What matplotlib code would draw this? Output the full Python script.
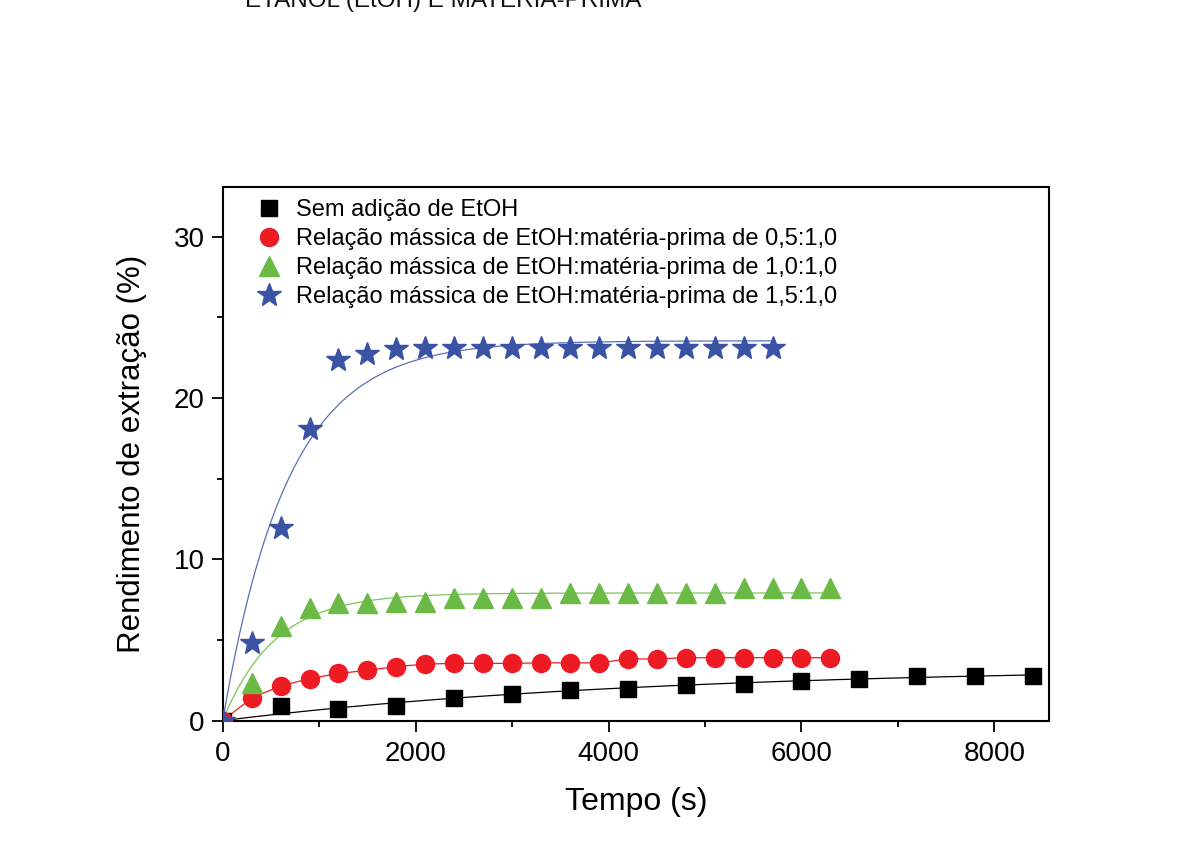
import matplotlib
matplotlib.use("Agg")
import matplotlib.pyplot as plt
import numpy as np

plt.rcParams['font.family'] = ['Liberation Sans', 'DejaVu Sans']

# DADOS
# -----
t_sem = np.arange(0, 8401, 600)
y_sem = [0, 0.88, 0.70, 0.92, 1.42, 1.67, 1.90, 1.97, 2.20, 2.28, 2.47, 2.58, 2.78, 2.78, 2.78]

t_05 = np.arange(0, 6301, 300)
y_05 = [0, 1.40, 2.15, 2.60, 2.92, 3.12, 3.35, 3.50, 3.55, 3.55, 3.55, 3.58, 3.58, 3.58,
        3.82, 3.82, 3.90, 3.90, 3.90, 3.90, 3.90, 3.90]

t_10 = np.arange(0, 6301, 300)
y_10 = [0, 2.35, 5.85, 7.00, 7.30, 7.30, 7.35, 7.35, 7.58, 7.58, 7.58, 7.58, 7.92, 7.92,
        7.92, 7.92, 7.92, 7.92, 8.22, 8.22, 8.22, 8.22]

t_15 = np.arange(0, 5701, 300)
y_15 = [0, 4.79, 11.92, 18.08, 22.35, 22.75, 23.05, 23.1, 23.1, 23.1, 23.1, 23.1, 23.1,
        23.1, 23.1, 23.1, 23.1, 23.1, 23.1, 23.1]

legendas = ['Sem adição de EtOH',
            'Relação mássica de EtOH:matéria-prima de 0,5:1,0',
            'Relação mássica de EtOH:matéria-prima de 1,0:1,0',
            'Relação mássica de EtOH:matéria-prima de 1,5:1,0']


def ajuste_primeira_ordem(t, y):
    '''
    Ajuste y = A*(1 - exp(-k t)) por mínimos quadrados (varredura em k)
    '''
    t = np.asarray(t, float)
    y = np.asarray(y, float)
    melhor = None
    for k in np.logspace(-5, -1, 3000):
        f = 1 - np.exp(-k * t)
        A = (f @ y) / (f @ f)
        sse = np.sum((y - A * f) ** 2)
        if melhor is None or sse < melhor[0]:
            melhor = (sse, A, k)
    return melhor[1], melhor[2]


def curva(t, y):
    A, k = ajuste_primeira_ordem(t, y)
    tt = np.linspace(0, max(t), 400)
    return tt, A * (1 - np.exp(-k * tt))


fig = plt.figure(figsize=(12.02, 8.55), dpi=100)
ax = fig.add_axes([0.1853, 0.1572, 0.6877, 0.6244])

# linhas
tt, yy = curva(t_sem, y_sem)
ax.plot(tt, yy, color='black', lw=0.9, zorder=2)
ax.plot(t_05, y_05, color='#ED1C24', lw=0.9, zorder=2)
tt, yy = curva(t_10, y_10)
ax.plot(tt, yy, color='#7CC45A', lw=0.9, zorder=2)
tt, yy = curva(t_15, y_15)
ax.plot(tt, yy, color='#5B6FB8', lw=0.9, zorder=2)

# pontos
ax.plot(t_sem, y_sem, 's', color='black', ms=11, label=legendas[0], zorder=3)
ax.plot(t_05, y_05, 'o', color='#ED1C24', ms=13, label=legendas[1], zorder=3)
ax.plot(t_10, y_10, '^', color='#6BBA45', ms=15, label=legendas[2], zorder=3)
ax.plot(t_15, y_15, '*', color='#3A53A4', ms=18, label=legendas[3], zorder=3)

ax.set_xlim(0, 8570)
ax.set_ylim(0, 33.1)
ax.set_xticks([0, 2000, 4000, 6000, 8000])
ax.set_xticks(np.arange(1000, 8001, 2000), minor=True)
ax.set_yticks([0, 10, 20, 30])
ax.set_yticks([5, 15, 25], minor=True)
ax.tick_params(which='major', direction='out', length=8, width=1.3, labelsize=20)
ax.tick_params(axis='x', which='major', pad=7)
ax.tick_params(axis='y', which='major', pad=5)
ax.tick_params(which='minor', direction='out', length=4.5, width=1.3)
ax.tick_params(top=False, right=False)
for s in ax.spines.values():
    s.set_linewidth(1.5)

ax.set_xlabel('Tempo (s)', fontsize=23, labelpad=14)
ax.set_ylabel('Rendimento de extração (%)', fontsize=22.5, labelpad=19)

ax.legend(loc='upper left', frameon=False, fontsize=17, handletextpad=0.55,
          borderaxespad=0.3, labelspacing=0.3, handlelength=1.2,
          bbox_to_anchor=(0.019, 1.008))

fig.text(245 / 1202, 1 - 7 / 855, 'ETANOL (EtOH) E MATÉRIA-PRIMA', fontsize=17.5,
         ha='left', va='baseline', color='#111111')

fig.savefig('out.png', dpi=100, facecolor='white')
